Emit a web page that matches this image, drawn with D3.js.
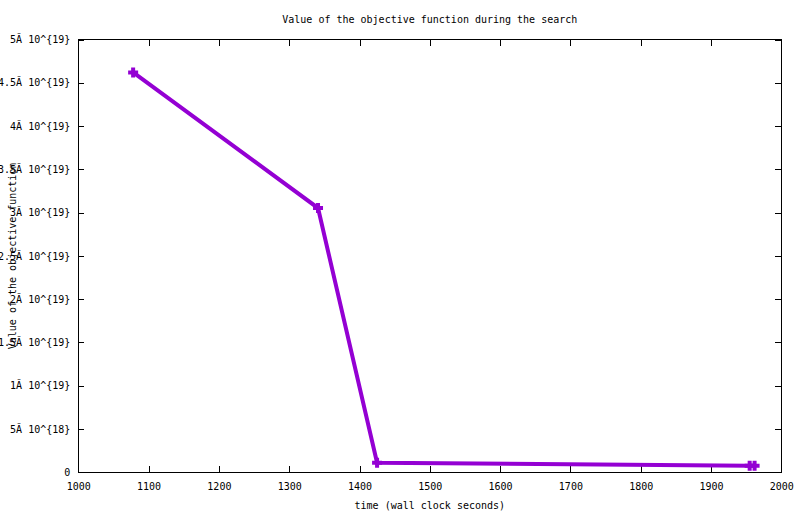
<!DOCTYPE html>
<html>
<head>
<meta charset="utf-8">
<script src="https://cdn.jsdelivr.net/npm/d3@7"></script>
<style>
  body { margin: 0; background: #fff; }
  svg { display: block; }
  text { font-family: "DejaVu Sans Mono", monospace; font-size: 10px; fill: #000; }
</style>
</head>
<body>
<svg id="chart" width="800" height="514"></svg>
<script>
const times = [1078, 1341, 1425, 1955, 1962];
const objectiveValues = [4.62e19, 3.053e19, 1.1e18, 7.6e17, 7.6e17];
const xTicks = [1000, 1100, 1200, 1300, 1400, 1500, 1600, 1700, 1800, 1900, 2000];
const yTicks = [0, 5e18, 1e19, 1.5e19, 2e19, 2.5e19, 3e19, 3.5e19, 4e19, 4.5e19, 5e19];
const yTickLabels = ["0", "5Ă 10^{18}", "1Ă 10^{19}", "1.5Ă 10^{19}", "2Ă 10^{19}", "2.5Ă 10^{19}",
                     "3Ă 10^{19}", "3.5Ă 10^{19}", "4Ă 10^{19}", "4.5Ă 10^{19}", "5Ă 10^{19}"];
const title = "Value of the objective function during the search";
const xLabel = "time (wall clock seconds)";
const yLabel = "Value of the objective function";

(function () {
const pL = 78.3, pR = 781.3, pT = 39.5, pB = 472.3;
const svg = d3.select("#chart");
const x = d3.scaleLinear().domain([1000, 2000]).range([pL, pR]);
const y = d3.scaleLinear().domain([0, 5e19]).range([pB, pT]);
const tickLen = 6;

const gx = svg.append("g").attr("transform", `translate(0,${pB})`)
  .call(d3.axisBottom(x).tickValues(xTicks).tickSizeInner(-tickLen).tickSizeOuter(0).tickPadding(14).tickFormat(d3.format("d")));
const gxTop = svg.append("g").attr("transform", `translate(0,${pT})`)
  .call(d3.axisTop(x).tickValues(xTicks).tickSizeInner(-tickLen).tickSizeOuter(0).tickFormat(""));
const gy = svg.append("g").attr("transform", `translate(${pL},0)`)
  .call(d3.axisLeft(y).tickValues(yTicks).tickSizeInner(-tickLen).tickSizeOuter(0).tickPadding(14)
        .tickFormat((d, i) => yTickLabels[i]));
const gyR = svg.append("g").attr("transform", `translate(${pR},0)`)
  .call(d3.axisRight(y).tickValues(yTicks).tickSizeInner(-tickLen).tickSizeOuter(0).tickFormat(""));

[gx, gxTop, gy, gyR].forEach(g => {
  g.select(".domain").remove();
  g.selectAll(".tick line").attr("stroke", "#000").attr("shape-rendering", "crispEdges");
  g.selectAll("text").attr("font-family", "DejaVu Sans Mono, monospace").attr("font-size", 10).attr("fill", "#000");
});
gx.selectAll("text").attr("dy", "0.35em").attr("y", 14);
gy.selectAll("text").attr("x", -8);

svg.append("rect")
  .attr("x", pL).attr("y", pT)
  .attr("width", pR - pL).attr("height", pB - pT)
  .attr("fill", "none").attr("stroke", "#000").attr("stroke-width", 1)
  .attr("shape-rendering", "crispEdges");

const pts = times.map((t, i) => [t, objectiveValues[i]]);
const color = "#9400d3";
svg.append("path")
  .datum(pts)
  .attr("fill", "none")
  .attr("stroke", color)
  .attr("stroke-width", 4)
  .attr("stroke-linejoin", "miter")
  .attr("d", d3.line().x(d => x(d[0])).y(d => y(d[1])));

const ms = 5;
const markers = svg.append("g");
pts.forEach(d => {
  const cx = x(d[0]), cy = y(d[1]);
  markers.append("path")
    .attr("d", `M${cx - ms},${cy}H${cx + ms}M${cx},${cy - ms}V${cy + ms}`)
    .attr("stroke", color).attr("stroke-width", 4).attr("fill", "none");
});

svg.append("text").attr("x", (pL + pR) / 2).attr("y", 19).attr("dy", "0.35em")
  .attr("text-anchor", "middle").text(title);
svg.append("text").attr("x", (pL + pR) / 2).attr("y", 505).attr("dy", "0.35em")
  .attr("text-anchor", "middle").text(xLabel);
svg.append("text")
  .attr("transform", `translate(12,${(pT + pB) / 2}) rotate(-90)`)
  .attr("dy", "0.35em").attr("text-anchor", "middle").text(yLabel);
})();
</script>
</body>
</html>
